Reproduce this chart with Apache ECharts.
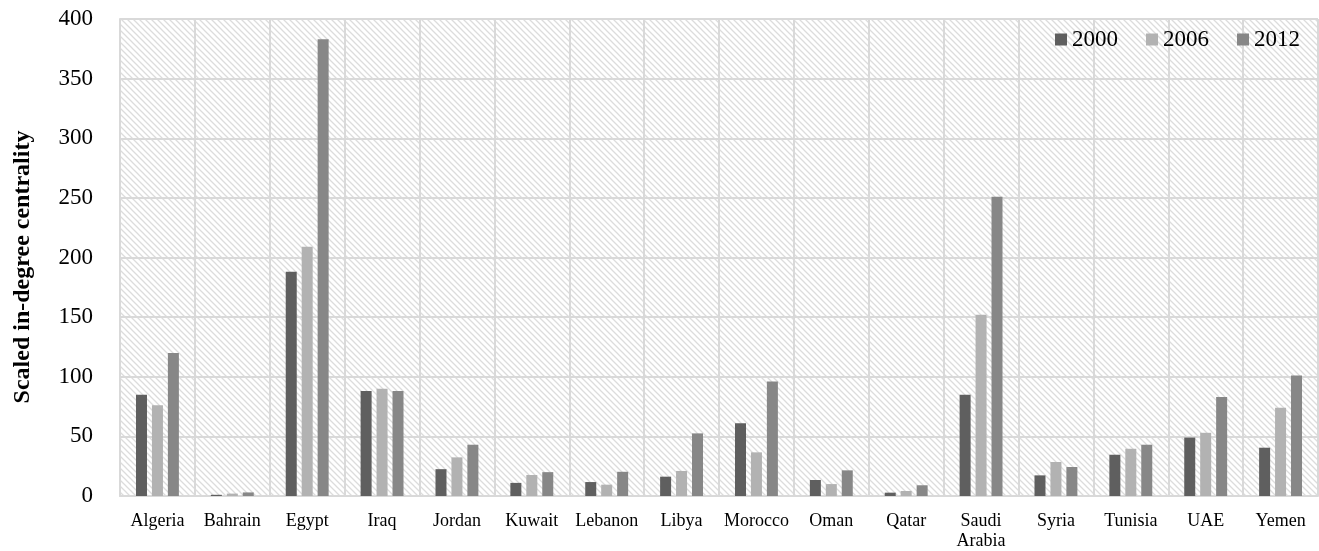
<!DOCTYPE html>
<html><head><meta charset="utf-8">
<script src="https://cdn.jsdelivr.net/npm/echarts@6/dist/echarts.min.js"></script>
<style>html,body{margin:0;padding:0;background:#fff}#c{width:1319px;height:551px}</style>
</head><body><div id="c"></div>
<script>
const categories = ['Algeria','Bahrain','Egypt','Iraq','Jordan','Kuwait','Lebanon','Libya','Morocco','Oman','Qatar','Saudi Arabia','Syria','Tunisia','UAE','Yemen'];
const seriesNames = ['2000','2006','2012'];
const values2000 = [85, 1, 188, 88, 22.5, 11, 11.7, 16.2, 61, 13.4, 2.8, 85, 17.3, 34.6, 49, 40.5];
const values2006 = [76, 2, 209, 90, 32.4, 17.6, 9.5, 21, 36.6, 10, 4.2, 152, 28.5, 39.6, 53, 74];
const values2012 = [120, 3, 383, 88, 43, 20, 20.3, 52.5, 96, 21.5, 9, 251, 24.3, 43, 83, 101];
const colors = ['#5f5f5f', '#b2b2b2', '#878787'];

const P = 6;
const cv = document.createElement('canvas');
cv.width = P; cv.height = P;
const g = cv.getContext('2d');
g.fillStyle = '#ffffff'; g.fillRect(0,0,P,P);
g.strokeStyle = '#dcdcdc'; g.lineWidth = 1.3;
g.beginPath();
g.moveTo(-1,-1); g.lineTo(P+1,P+1);
g.moveTo(-1,P-1); g.lineTo(1,P+1);
g.moveTo(P-1,-1); g.lineTo(P+1,1);
g.stroke();

const font = 'Liberation Serif';
const chart = echarts.init(document.getElementById('c'), null, {renderer:'canvas'});
chart.setOption({
  animation: false,
  textStyle: {fontFamily: font},
  grid: {left: 120, right: 1, top: 19, bottom: 54, show: true,
         backgroundColor: {image: cv, repeat: 'repeat'}, borderWidth: 0},
  legend: {
    data: seriesNames, top: 23, right: 14, itemWidth: 12, itemHeight: 12, itemGap: 28,
    textStyle: {fontFamily: font, fontSize: 23, color: '#000'}, icon: 'rect'
  },
  graphic: [{
    type: 'text', x: 23, y: 267, rotation: Math.PI / 2,
    style: {text: 'Scaled in-degree centrality', font: 'bold 24px "Liberation Serif"',
            fill: '#000', textAlign: 'center', textVerticalAlign: 'middle'}
  }],
  xAxis: {
    type: 'category', data: categories,
    axisLine: {show: true, lineStyle: {color: '#d9d9d9', width: 2}},
    axisTick: {show: false},
    splitLine: {show: true, lineStyle: {color: '#d9d9d9', width: 2}},
    axisLabel: {fontFamily: font, fontSize: 18, color: '#000', margin: 15, interval: 0, lineHeight: 20,
                formatter: v => v.replace(' ', '\n')}
  },
  yAxis: {
    type: 'value', min: 0, max: 400, interval: 50,
    axisLine: {show: true, lineStyle: {color: '#d9d9d9', width: 2}},
    axisTick: {show: false},
    splitLine: {show: true, lineStyle: {color: '#d9d9d9', width: 2}},
    axisLabel: {fontFamily: font, fontSize: 23, color: '#000', margin: 27}
  },
  series: [values2000, values2006, values2012].map((d, i) => ({
    name: seriesNames[i], type: 'bar', data: d, barWidth: 11, barGap: '45%',
    itemStyle: {color: colors[i]}
  }))
});
</script></body></html>
